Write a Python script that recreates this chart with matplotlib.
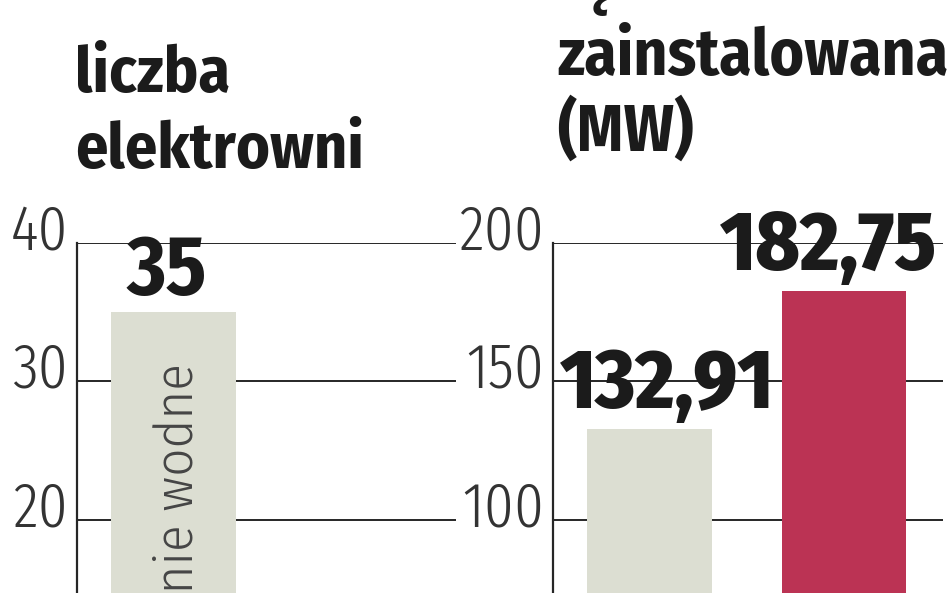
import matplotlib
matplotlib.use('Agg')
import matplotlib.pyplot as plt
from matplotlib.transforms import ScaledTranslation

# liczba elektrowni
count_values = [35]
count_ticks = [20, 30, 40]
count_label = 'elektrownie wodne'

# moc zainstalowana (MW)
power_values = [132.91, 182.75]
power_ticks = [100, 150, 200]

title_left = ['liczba', 'elektrowni']
title_right = ['łączna moc', 'zainstalowana', '(MW)']

GRAY = '#dcded2'
RED = '#bb3354'
INK = '#1b1b1b'

plt.rcParams['font.family'] = ['Fira Sans Condensed', 'DejaVu Sans']
TICK_FONT = ['Fira Sans Extra Condensed', 'Fira Sans Condensed', 'DejaVu Sans']

W, H = 948, 593
fig = plt.figure(figsize=(W / 100, H / 100), dpi=100)


def box(x0, y0, x1, y1):
    # pixel box (from top-left) -> figure rect
    return [x0 / W, 1 - y1 / H, (x1 - x0) / W, (y1 - y0) / H]


def fmt(v):
    return ('%.2f' % v).replace('.', ',') if v % 1 else '%d' % v


def setup(ax, ticks, top, x_right):
    ax.set_ylim(0, top)
    ax.set_xlim(-0.495, x_right)
    ax.set_xticks([])
    ax.set_yticks(ticks)
    ax.yaxis.grid(True, color='#262626', lw=1.4)
    ax.set_axisbelow(True)
    for s in ['top', 'right', 'bottom']:
        ax.spines[s].set_visible(False)
    ax.spines['left'].set_linewidth(1.6)
    ax.spines['left'].set_color('#262626')
    ax.tick_params(axis='y', length=0, pad=6.5, labelsize=46, labelcolor='#333333')
    up = ScaledTranslation(0, 0.17, fig.dpi_scale_trans)
    for t in ax.get_yticklabels():
        t.set_fontfamily(TICK_FONT)
        t.set_fontweight(300)
        t.set_transform(t.get_transform() + up)


def value_labels(ax, values, nudges, lift, weight=800):
    for i, v in enumerate(values):
        ax.annotate(fmt(v), (i, v), xytext=(nudges[i], lift), textcoords='offset points',
                    ha='center', va='baseline', fontsize=60, fontweight=weight, color=INK)


ax1 = fig.add_axes(box(77, 243, 456, 796))
setup(ax1, count_ticks, 40, -0.495 + 379 / 194.5)
ax1.bar(range(len(count_values)), count_values, width=0.64, color=GRAY)
value_labels(ax1, count_values, [-5], 12, weight='bold')
ax1.text(0.098, 31.3, count_label, rotation=90, rotation_mode='anchor',
         ha='right', va='baseline', fontsize=39.5, fontweight=300, color='#454545')

ax2 = fig.add_axes(box(553, 243, 943, 796))
setup(ax2, power_ticks, 200, -0.495 + 390 / 194.5)
ax2.bar(range(len(power_values)), power_values, width=0.64, color=[GRAY, RED])
value_labels(ax2, power_values, [13, -11], 15)

for k, line in enumerate(title_left):
    fig.text(75 / W, 1 - (92 + 76 * k) / H, line, va='baseline', fontsize=46,
             fontweight='bold', color=INK)
for k, line in enumerate(title_right):
    fig.text(557 / W, 1 - (-1 + 76 * k) / H, line, va='baseline', fontsize=47,
             fontweight='bold', color=INK)

fig.savefig('out.png', dpi=100)
